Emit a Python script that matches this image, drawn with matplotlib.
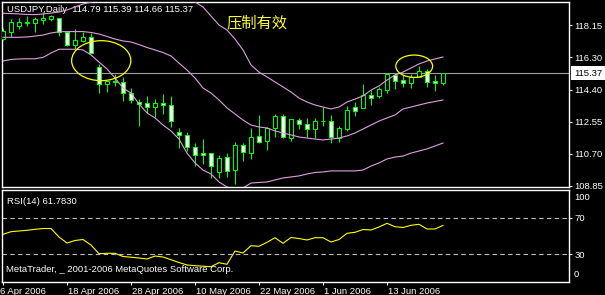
import matplotlib
matplotlib.use("Agg")
import matplotlib.pyplot as plt
import matplotlib.transforms as mtransforms
from matplotlib.patches import Rectangle, Ellipse
import numpy as np
import pandas as pd

plt.rcParams['font.family'] = ['Liberation Sans', 'DejaVu Sans']

# daily bars, 6 Apr 2006 .. 22 Jun 2006
dates = pd.bdate_range("2006-04-06", "2006-06-22")

opens = [117.34, 117.76, 118.11, 118.27, 118.28, 118.44, 118.51, 118.54, 117.75, 117.01,
         117.24, 117.44, 115.71, 114.72, 114.84, 114.86, 114.20, 113.70, 113.63, 113.40,
         113.63, 113.51, 111.95, 111.78, 111.09, 110.74, 110.74, 109.68, 110.51, 109.76,
         111.20, 110.77, 111.72, 111.47, 112.18, 112.89, 111.64, 112.64, 112.43, 112.13,
         112.59, 112.59, 111.64, 112.16, 113.40, 113.37, 114.09, 114.07, 114.40, 115.28,
         114.97, 114.82, 115.16, 115.49, 114.93, 114.79]
highs = [117.98, 118.48, 118.54, 118.67, 118.63, 118.90, 118.75, 118.54, 117.75, 117.90,
         117.75, 117.67, 115.90, 114.92, 115.32, 115.13, 114.49, 113.88, 114.03, 113.88,
         114.15, 114.03, 112.18, 111.95, 111.35, 111.55, 110.74, 110.62, 110.74, 111.37,
         111.32, 112.18, 112.93, 112.24, 113.01, 113.01, 112.74, 112.76, 112.76, 112.78,
         113.40, 112.95, 112.32, 113.47, 113.72, 114.74, 114.40, 114.55, 115.39, 115.39,
         115.26, 115.32, 115.78, 115.59, 115.26, 115.39]
lows = [117.28, 117.47, 117.90, 118.11, 117.76, 118.21, 118.40, 117.51, 116.94, 116.75,
        117.17, 116.52, 114.24, 114.30, 114.63, 113.78, 113.63, 112.32, 113.08, 112.85,
        113.01, 112.28, 111.03, 110.89, 110.02, 110.10, 109.33, 109.33, 109.35, 108.97,
        110.31, 110.43, 111.32, 110.93, 111.66, 111.64, 111.47, 112.14, 111.70, 111.61,
        112.32, 111.35, 111.41, 112.04, 112.89, 113.34, 113.53, 113.93, 114.24, 114.47,
        114.55, 114.49, 115.13, 114.55, 114.35, 114.66]
closes = [117.80, 118.32, 118.32, 118.32, 118.48, 118.55, 118.67, 117.73, 116.98, 117.28,
          117.46, 116.55, 114.72, 114.92, 114.92, 114.20, 113.82, 113.60, 113.40, 113.63,
          113.51, 112.59, 111.78, 111.09, 110.62, 110.62, 110.02, 110.48, 109.70, 111.20,
          110.81, 111.66, 111.41, 112.18, 112.89, 111.70, 112.70, 112.41, 112.13, 112.59,
          112.60, 111.70, 112.18, 113.24, 113.20, 114.11, 113.95, 114.44, 115.32, 114.93,
          114.82, 115.16, 115.49, 114.87, 114.78, 115.37]

# Bollinger bands
bb_upper = [118.83, 118.81, 118.79, 118.76, 118.75, 118.79, 118.84, 118.90, 119.02, 119.19,
            119.36, 119.48, 119.65, 119.83, 119.94, 120.00, 120.06, 120.06, 120.00, 119.94,
            119.88, 119.83, 119.71, 119.59, 119.48, 119.19, 118.67, 118.15, 117.86, 117.34,
            116.71, 115.84, 115.43, 115.15, 114.86, 114.57, 114.28, 113.93, 113.70, 113.53,
            113.41, 113.30, 113.41, 113.70, 113.87, 114.05, 114.39, 114.63, 114.97, 115.26,
            115.43, 115.67, 115.90, 116.07, 116.19, 116.30]
bb_middle = [117.44, 117.44, 117.44, 117.46, 117.51, 117.57, 117.69, 117.76, 117.77, 117.77,
             117.77, 117.72, 117.63, 117.49, 117.34, 117.23, 117.17, 117.02, 116.85, 116.71,
             116.56, 116.36, 115.95, 115.55, 115.09, 114.51, 114.22, 113.82, 113.36, 113.01,
             112.66, 112.37, 112.26, 112.20, 112.03, 111.91, 111.80, 111.68, 111.62, 111.56,
             111.51, 111.56, 111.62, 111.74, 111.91, 112.14, 112.37, 112.60, 112.78, 112.95,
             113.30, 113.41, 113.53, 113.64, 113.73, 113.82]
bb_lower = [116.07, 116.16, 116.19, 116.20, 116.20, 116.28, 116.53, 116.75, 116.75, 116.75,
            116.71, 116.42, 116.01, 115.61, 115.09, 114.51, 114.22, 113.59, 113.07, 112.78,
            112.37, 112.03, 111.56, 110.75, 110.18, 109.77, 109.54, 109.08, 108.79, 108.68,
            108.73, 109.02, 109.05, 109.08, 109.20, 109.31, 109.37, 109.43, 109.54, 109.63,
            109.66, 109.72, 109.72, 109.72, 109.72, 109.77, 110.00, 110.18, 110.41, 110.52,
            110.58, 110.75, 110.87, 110.99, 111.16, 111.33]

rsi = [51.89, 54.78, 55.56, 56.33, 57.44, 58.33, 58.33, 48.89, 42.22, 45.00,
       46.11, 40.00, 30.33, 30.78, 30.78, 27.22, 26.44, 25.56, 24.44, 27.78,
       26.67, 23.67, 20.56, 17.78, 17.00, 16.44, 15.89, 20.33, 18.56, 33.33,
       31.11, 39.22, 38.56, 43.00, 48.11, 41.89, 48.33, 47.22, 45.56, 48.11,
       48.11, 43.33, 46.11, 53.00, 54.11, 57.22, 56.67, 60.00, 64.11, 60.33,
       59.44, 61.89, 63.00, 57.78, 57.78, 61.78]
rsi_last = 61.7830

price_ticks = [118.15, 116.30, 114.40, 112.55, 110.70, 108.85]
date_tick_idx = [0, 8, 16, 24, 32, 40, 48]

GREEN = '#00ff00'
PLUM = '#dda0dd'
W, H = 605, 295
FS = 6.8

fig = plt.figure(figsize=(W / 100, H / 100), dpi=100, facecolor='black')
ax = fig.add_axes([2 / W, 1 - 187 / H, 567 / W, 185 / H], facecolor='black')
ax2 = fig.add_axes([2 / W, 1 - 282 / H, 567 / W, 92 / H], facecolor='black')

x = np.arange(len(dates))

# candles
ax.vlines(x, lows, highs, color=GREEN, lw=0.75, zorder=2)
for i in x:
    o, c = opens[i], closes[i]
    face = 'white' if c < o else 'black'
    ax.add_patch(Rectangle((i - 0.25, min(o, c)), 0.5, abs(c - o), facecolor=face,
                           edgecolor=GREEN, lw=0.75, zorder=3))

# bollinger bands
for band in (bb_upper, bb_middle, bb_lower):
    ax.plot(x, band, color=PLUM, lw=0.8, zorder=4)

# bid line
ax.axhline(closes[-1], color='#a0a0a0', lw=0.8, zorder=1)

# hand-drawn marks
ax.add_patch(Ellipse((12.28, 116.09), 7.4, 2.31, fill=False, edgecolor='yellow', lw=0.9, zorder=5))
ax.add_patch(Ellipse((51.4, 115.77), 4.6, 1.29, fill=False, edgecolor='yellow', lw=0.9, zorder=5))
fig.text(227 / W, 1 - 23 / H, "压制有效", color='#ffff30', fontsize=11,
         family=['Noto Sans CJK SC', 'DejaVu Sans'], va='center', ha='left')

ax.set_xlim(-0.125, 70.75)
ax.set_ylim(108.79, 119.48)
ax.set_xticks([])
ax.yaxis.tick_right()
ax.set_yticks(price_ticks)
ax.set_yticklabels([f"{p:.2f}" for p in price_ticks])
ax.tick_params(axis='y', colors='white', direction='out', length=2.5, width=0.75,
               labelsize=FS, pad=1.5)

title = f"USDJPY,Daily  {opens[-1]:.2f} {highs[-1]:.2f} {lows[-1]:.2f} {closes[-1]:.2f}"
ax.text(5 / 567, 1 - 8 / 185, title, transform=ax.transAxes, color='white',
        fontsize=FS, va='center', ha='left')

ax.annotate(f"{closes[-1]:.2f}", xy=(1, closes[-1]), xycoords=('axes fraction', 'data'),
            xytext=(5, 0), textcoords='offset pixels', ha='left', va='center',
            color='black', fontsize=FS, annotation_clip=False,
            bbox=dict(boxstyle='square,pad=0.28', fc='white', ec='none'))

# RSI panel
ax2.plot(x, rsi, color='yellow', lw=0.8)
for lvl in (70, 30):
    ax2.axhline(lvl, color='#c0c0c0', lw=0.8, linestyle=(0, (4, 3)))
ax2.set_xlim(-0.125, 70.75)
ax2.set_ylim(-1.11, 101.11)
ax2.yaxis.tick_right()
ax2.set_yticks([70, 30])
ax2.set_yticklabels(['70', '30'])
ax2.tick_params(axis='y', colors='white', direction='out', length=2.5, width=0.75,
                labelsize=FS, pad=1.5)
rt = mtransforms.blended_transform_factory(ax2.transAxes, ax2.transData)
ax2.text(1 + 5 / 567, 92.6, "100", transform=rt, color='white', fontsize=FS, va='center')
ax2.text(1 + 5 / 567, 6.7, "0", transform=rt, color='white', fontsize=FS, va='center')

ax2.set_xticks(date_tick_idx)
ax2.tick_params(axis='x', colors='white', direction='out', length=2.5, width=0.75,
                labelbottom=False)
dt = mtransforms.blended_transform_factory(ax2.transData, ax2.transAxes)
for k, i in enumerate(date_tick_idx):
    d = dates[i]
    off = -0.375 if k == 0 else 0.125
    ax2.text(i + off, -0.055, f"{d.day} {d.strftime('%b %Y')}", transform=dt,
             color='white', fontsize=FS, ha='left', va='top', clip_on=False)

ax2.text(5 / 567, 1 - 11 / 92, f"RSI(14) {rsi_last:.4f}", transform=ax2.transAxes,
         color='white', fontsize=FS, va='center', ha='left')
ax2.text(4 / 567, 1 - 79 / 92, "MetaTrader, _ 2001-2006 MetaQuotes Software Corp.",
         transform=ax2.transAxes, color='white', fontsize=FS, va='center', ha='left')

for a in (ax, ax2):
    for s in a.spines.values():
        s.set_color('white')
        s.set_linewidth(1.0)

fig.savefig("out.png", dpi=100, facecolor='black')
